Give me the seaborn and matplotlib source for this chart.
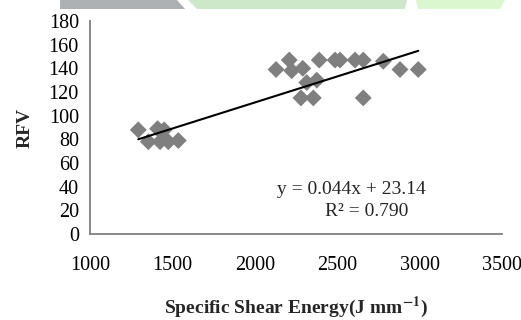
import matplotlib
matplotlib.use("Agg")
import matplotlib.pyplot as plt
import seaborn as sns
import numpy as np
import pandas as pd
from matplotlib.patches import Polygon

sns.set_theme(style="white")
plt.rcParams['font.family'] = ['Liberation Serif', 'DejaVu Serif']
plt.rcParams['mathtext.fontset'] = 'stix'

# Data
energy = [1293, 1354, 1410, 1425, 1450, 1475, 1536,
          2129, 2209, 2224, 2291, 2280, 2315, 2355, 2376, 2391,
          2487, 2517, 2608, 2658, 2658, 2780, 2881, 2992]
rfv = [88, 78, 89, 78, 88, 78, 79,
       139, 147, 138, 140, 115, 128, 115, 130, 147,
       147, 147, 147, 147, 115, 146, 139, 139]
slope = 0.044
intercept = 23.14
r2 = 0.790
x_ticks = [1000, 1500, 2000, 2500, 3000, 3500]
y_ticks = [0, 20, 40, 60, 80, 100, 120, 140, 160, 180]

df = pd.DataFrame({"energy": energy, "rfv": rfv})

fig = plt.figure(figsize=(5.21, 3.20), dpi=100)
ax = fig.add_axes([90/521, 1-234/320, (502-90)/521, (234-21)/320])

sns.scatterplot(data=df, x="energy", y="rfv", marker="D", s=74,
                color="#7f7f7f", edgecolor="none", ax=ax, zorder=2)

xl = np.array([min(energy), max(energy)])
ax.plot(xl, slope*xl + intercept, color="black", lw=1.5, zorder=3)

ax.set_xlim(1000, 3500)
ax.set_ylim(0, 180)
ax.set_xticks(x_ticks)
ax.set_yticks(y_ticks)
ax.tick_params(axis="both", labelsize=14.5, length=5, width=1.2,
               color="#808080", direction="out", labelcolor="black", pad=3)
ax.tick_params(axis="x", pad=11)
for s in ["top", "right"]:
    ax.spines[s].set_visible(False)
for s in ["left", "bottom"]:
    ax.spines[s].set_color("#808080")
    ax.spines[s].set_linewidth(1.3)

ax.set_xlabel("Specific Shear Energy(J mm$^{\\mathbf{-1}}$)", fontsize=14,
              fontweight="bold", labelpad=14)
ax.set_ylabel("RFV", fontsize=14, fontweight="bold", labelpad=11)

ax.text(2584, 38, f"y = {slope}x + {intercept}", fontsize=14, ha="center", va="center")
ax.text(2681, 18.6, f"R² = {r2:.3f}", fontsize=14, ha="center", va="center")

# decorative band at the top of the page
def band(pts, color):
    fig.patches.append(Polygon([(x/521, 1-y/320) for x, y in pts], closed=True,
                               transform=fig.transFigure, facecolor=color,
                               edgecolor="none", zorder=0))
band([(60, 0), (177, 0), (185, 9), (60, 9)], "#aeb1b4")
band([(188, 0), (407, 0), (405, 9), (197, 9)], "#cde8c8")
band([(416, 0), (505, 0), (500, 9), (418, 9)], "#dbf7cf")

fig.savefig("out.png", dpi=100)
